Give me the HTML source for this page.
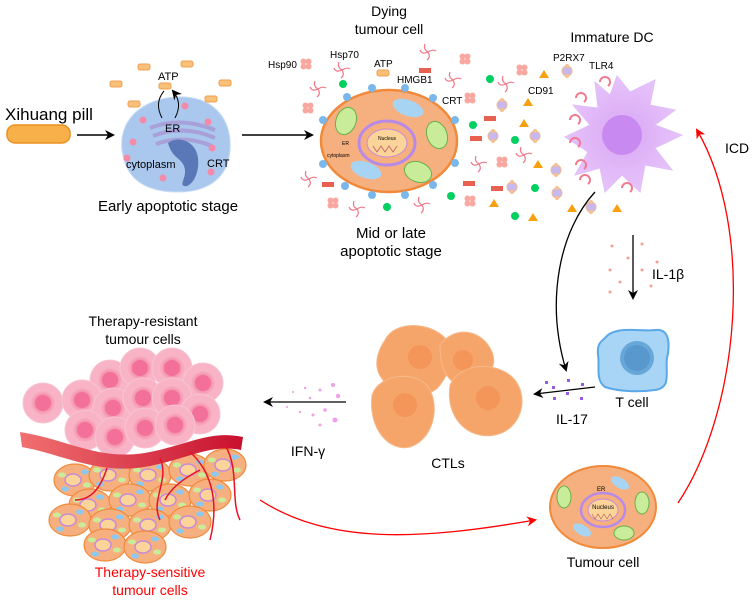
<!DOCTYPE html>
<html><head><meta charset="utf-8"><style>
html,body{margin:0;padding:0;background:#fff;}
svg{display:block;font-family:"Liberation Sans",sans-serif;}
</style></head><body>
<svg width="753" height="603" viewBox="0 0 753 603" xmlns="http://www.w3.org/2000/svg">
<defs>
<marker id="ab" markerWidth="10" markerHeight="10" refX="8" refY="5" orient="auto" markerUnits="userSpaceOnUse"><path d="M0,0 L10,5 L0,10 L3,5 z" fill="#000"/></marker>
<marker id="ar" markerWidth="10" markerHeight="10" refX="8" refY="5" orient="auto" markerUnits="userSpaceOnUse"><path d="M0,0 L10,5 L0,10 L3,5 z" fill="#f00"/></marker>
<radialGradient id="pk" cx="0.5" cy="0.5" r="0.5"><stop offset="0" stop-color="#f06a92"/><stop offset="0.55" stop-color="#f48aa8"/><stop offset="1" stop-color="#f9b8c8"/></radialGradient>
<radialGradient id="dc" cx="0.5" cy="0.5" r="0.5"><stop offset="0" stop-color="#d9a6f4"/><stop offset="1" stop-color="#e6c3fa"/></radialGradient>
<linearGradient id="band" x1="0" x2="1"><stop offset="0" stop-color="#f07070"/><stop offset="1" stop-color="#c8102e"/></linearGradient>
<g id="ocell"><ellipse rx="21" ry="16" fill="#f6b07f" stroke="#f08a3a" stroke-width="1.2"/><ellipse cx="-2" cy="0" rx="8" ry="6" fill="#fbd49a" stroke="#c68ad8" stroke-width="1.5"/><ellipse cx="-13" cy="-5" rx="4" ry="2.5" fill="#c8ec9a"/><ellipse cx="12" cy="5" rx="4" ry="2.5" fill="#c8ec9a"/><ellipse cx="10" cy="-8" rx="4" ry="2.5" fill="#8cc8f0"/><ellipse cx="-10" cy="9" rx="4" ry="2.5" fill="#8cc8f0"/></g>
<g id="pcell"><circle r="20" fill="#f9b3c6" stroke="#f8c4d2"/><circle r="13" fill="url(#pk)"/><circle r="8" fill="#f3709a"/></g>
<g id="hsp"><path d="M0,0 q-5,-3 -3,-8 M0,0 q5,-3 8,-1 M0,0 q3,5 -1,8 M0,0 q-6,3 -8,-2" stroke="#f07a88" stroke-width="1.2" fill="none"/></g>
<g id="h90"><circle cx="-2.5" cy="-2.5" r="3" fill="#f8a8a0"/><circle cx="2.5" cy="-2.5" r="3" fill="#f8a8a0"/><circle cx="-2.5" cy="2.5" r="3" fill="#f8a8a0"/><circle cx="2.5" cy="2.5" r="3" fill="#f8a8a0"/></g>
<g id="p2"><circle r="5" fill="#c8b8f0" stroke="#f0b890"/><circle cy="-5" r="2" fill="#f6c090"/><circle cy="5" r="2" fill="#f6c090"/></g>
</defs>

<text x="5" y="120" font-size="17">Xihuang pill</text>
<rect x="7" y="125" width="63" height="18" rx="8" fill="#f7b04a" stroke="#ef8f20" stroke-width="1.5"/>
<line x1="77" y1="135" x2="113" y2="135" stroke="#000" stroke-width="1.5" marker-end="url(#ab)"/>

<path d="M122,150 C118,115 150,95 185,97 C215,99 232,120 230,150 C228,180 205,193 175,192 C140,191 125,175 122,150z" fill="#aac8ee" stroke="#c8dcf4"/>
<path d="M150,128 q30,-12 65,2 M153,136 q30,-12 62,2 M156,144 q28,-10 56,2" stroke="#a8a0d8" stroke-width="4" fill="none"/>
<path d="M168,143 c10,-8 28,-2 30,15 c2,18 -8,30 -14,28 c-5,-2 4,-10 0,-20 c-3,-8 -12,-8 -16,-23z" fill="#5a78b8"/>
<text x="165" y="132" font-size="11">ER</text>
<text x="126" y="168" font-size="11">cytoplasm</text>
<text x="207" y="167" font-size="11">CRT</text>
<g fill="#f48aa8"><circle cx="185" cy="106" r="3.5"/><circle cx="143" cy="120" r="3.5"/><circle cx="208" cy="122" r="3.5"/><circle cx="133" cy="142" r="3.5"/><circle cx="127" cy="158" r="3.5"/><circle cx="212" cy="148" r="3.5"/><circle cx="211" cy="172" r="3.5"/><circle cx="163" cy="178" r="3.5"/></g>
<text x="158" y="80" font-size="11">ATP</text>
<g fill="#f8c078" stroke="#f0a050"><rect x="159" y="83" width="12" height="6" rx="2"/><rect x="138" y="64" width="12" height="6" rx="2"/><rect x="181" y="61" width="12" height="6" rx="2"/><rect x="110" y="81" width="12" height="6" rx="2"/><rect x="219" y="80" width="12" height="6" rx="2"/><rect x="128" y="101" width="12" height="6" rx="2"/><rect x="205" y="96" width="12" height="6" rx="2"/></g>
<path d="M162,118 q-8,-15 2,-27 M175,118 q8,-15 -2,-27" stroke="#000" fill="none" marker-end="url(#ab)"/>
<text x="168" y="211" font-size="15" text-anchor="middle">Early apoptotic stage</text>
<line x1="242" y1="135" x2="312" y2="135" stroke="#000" stroke-width="1.5" marker-end="url(#ab)"/>

<text x="389" y="16" font-size="14" text-anchor="middle">Dying</text>
<text x="389" y="34" font-size="14" text-anchor="middle">tumour cell</text>
<ellipse cx="389" cy="141" rx="68" ry="51" fill="#f6b07f" stroke="#f08a3a" stroke-width="2.5"/>
<ellipse cx="387" cy="143" rx="28" ry="22" fill="none" stroke="#b88ae8" stroke-width="3"/>
<ellipse cx="387" cy="143" rx="20" ry="14" fill="#fbd49a" stroke="#c68ad8"/>
<text x="387" y="140" font-size="5" text-anchor="middle">Nucleus</text>
<path d="M373,146 l4,6 4,-6 4,6 4,-6 4,6 4,-6" stroke="#c06060" fill="none" stroke-width="0.8"/>
<ellipse cx="346" cy="121" rx="10" ry="14" fill="#c8ec9a" stroke="#6ab04a" transform="rotate(20 346 121)"/>
<ellipse cx="437" cy="135" rx="10" ry="14" fill="#c8ec9a" stroke="#6ab04a" transform="rotate(-20 437 135)"/>
<ellipse cx="418" cy="172" rx="14" ry="10" fill="#c8ec9a" stroke="#6ab04a" transform="rotate(20 418 172)"/>
<ellipse cx="408" cy="108" rx="16" ry="8" fill="#a8d4f4" transform="rotate(20 408 108)"/>
<ellipse cx="366" cy="170" rx="16" ry="8" fill="#a8d4f4" transform="rotate(20 366 170)"/>
<text x="342" y="145" font-size="5">ER</text>
<text x="327" y="157" font-size="5">cytoplasm</text>
<g fill="#7ab8ec"><circle cx="323" cy="120" r="4"/><circle cx="323" cy="164" r="4"/><circle cx="347" cy="97" r="4"/><circle cx="372" cy="88" r="4"/><circle cx="405" cy="88" r="4"/><circle cx="433" cy="98" r="4"/><circle cx="455" cy="120" r="4"/><circle cx="455" cy="163" r="4"/><circle cx="433" cy="185" r="4"/><circle cx="405" cy="195" r="4"/><circle cx="372" cy="195" r="4"/><circle cx="345" cy="186" r="4"/></g>
<text x="268" y="68" font-size="10">Hsp90</text>
<text x="330" y="58" font-size="10">Hsp70</text>
<text x="374" y="67" font-size="10">ATP</text>
<text x="397" y="83" font-size="10">HMGB1</text>
<text x="442" y="104" font-size="10">CRT</text>
<rect x="377" y="70" width="12" height="6" rx="2" fill="#f8c078" stroke="#f0a050"/>
<g fill="#e86050"><rect x="419" y="68" width="12" height="5"/><rect x="322" y="182" width="12" height="5"/><rect x="484" y="116" width="12" height="5"/><rect x="470" y="136" width="12" height="5"/><rect x="463" y="181" width="12" height="5"/><rect x="491" y="186" width="12" height="5"/></g>
<g fill="#00d060"><circle cx="343" cy="84" r="4"/><circle cx="473" cy="125" r="4"/><circle cx="490" cy="79" r="4"/><circle cx="515" cy="140" r="4"/><circle cx="387" cy="207" r="4"/><circle cx="451" cy="196" r="4"/><circle cx="535" cy="188" r="4"/><circle cx="515" cy="216" r="4"/></g>
<g><use href="#h90" x="306" y="64"/><use href="#h90" x="308" y="108"/><use href="#h90" x="333" y="203"/><use href="#h90" x="470" y="98"/><use href="#h90" x="465" y="59"/><use href="#h90" x="522" y="70"/><use href="#h90" x="502" y="162"/><use href="#h90" x="470" y="201"/></g>
<g><use href="#hsp" x="342" y="70"/><use href="#hsp" x="318" y="89"/><use href="#hsp" x="428" y="52"/><use href="#hsp" x="453" y="80"/><use href="#hsp" x="506" y="84"/><use href="#hsp" x="309" y="179"/><use href="#hsp" x="357" y="209"/><use href="#hsp" x="422" y="205"/><use href="#hsp" x="479" y="164"/><use href="#hsp" x="524" y="155"/></g>
<g fill="#f8a010"><path d="M544,70 l5,8 h-10z"/><path d="M528,98 l5,8 h-10z"/><path d="M524,119 l5,8 h-10z"/><path d="M538,160 l5,8 h-10z"/><path d="M494,199 l5,8 h-10z"/><path d="M533,213 l5,8 h-10z"/><path d="M572,204 l5,8 h-10z"/><path d="M617,204 l5,8 h-10z"/></g>
<g><use href="#p2" x="567" y="71"/><use href="#p2" x="502" y="105"/><use href="#p2" x="493" y="136"/><use href="#p2" x="535" y="136"/><use href="#p2" x="556" y="170"/><use href="#p2" x="512" y="187"/><use href="#p2" x="557" y="193"/><use href="#p2" x="591" y="207"/></g>
<text x="391" y="238" font-size="15" text-anchor="middle">Mid or late</text>
<text x="391" y="256" font-size="15" text-anchor="middle">apoptotic stage</text>

<text x="612" y="42" font-size="14" text-anchor="middle">Immature DC</text>
<text x="553" y="61" font-size="10">P2RX7</text>
<text x="589" y="69" font-size="10">TLR4</text>
<text x="528" y="94" font-size="10">CD91</text>
<path d="M617,76 L630,92 L655,80 L650,105 L675,110 L655,125 L682,135 L655,148 L672,170 L645,165 L640,192 L622,175 L605,192 L600,168 L575,175 L588,152 L565,137 L590,125 L573,105 L598,108 L595,82 L610,95z" fill="url(#dc)" stroke="#e0c0f8"/>
<circle cx="622" cy="135" r="20" fill="#c88af0"/>
<g stroke="#f07a90" stroke-width="2" fill="none"><path d="M576,98 a5,5 0 1,1 8,4"/><path d="M570,120 a5,5 0 1,1 8,4"/><path d="M570,143 a5,5 0 1,1 8,4"/><path d="M576,165 a5,5 0 1,1 8,4"/><path d="M600,82 a5,5 0 1,1 8,4"/><path d="M622,188 a5,5 0 1,1 8,4"/><path d="M580,180 a5,5 0 1,1 8,4"/></g>

<path d="M595,192 C560,230 545,300 566,370" stroke="#000" stroke-width="1.3" fill="none" marker-end="url(#ab)"/>
<line x1="633" y1="235" x2="633" y2="298" stroke="#000" stroke-width="1.3" marker-end="url(#ab)"/>
<g fill="#f4a090"><circle cx="612" cy="246" r="1.5"/><circle cx="642" cy="244" r="1.5"/><circle cx="628" cy="258" r="1.5"/><circle cx="610" cy="270" r="1.5"/><circle cx="642" cy="270" r="1.5"/><circle cx="657" cy="262" r="1.5"/><circle cx="620" cy="282" r="1.5"/><circle cx="651" cy="286" r="1.5"/><circle cx="610" cy="292" r="1.5"/></g>
<text x="652" y="279" font-size="14">IL-1β</text>

<path d="M605,338 C615,325 640,332 655,330 C670,328 670,345 667,358 C665,372 672,388 655,390 C640,392 620,392 605,387 C595,380 600,365 598,355 C597,345 600,342 605,338z" fill="#a8d4f6" stroke="#5aa8e8" stroke-width="2"/>
<circle cx="637" cy="358" r="17" fill="#68a8d8"/><circle cx="637" cy="358" r="13" fill="#5898cc"/>
<text x="632" y="407" font-size="14" text-anchor="middle">T cell</text>
<line x1="595" y1="387" x2="535" y2="394" stroke="#000" stroke-width="1.3" marker-end="url(#ab)"/>
<g fill="#9a5ae8"><rect x="545" y="381" width="3" height="3"/><rect x="567" y="379" width="3" height="3"/><rect x="581" y="383" width="3" height="3"/><rect x="552" y="386" width="3" height="3"/><rect x="566" y="392" width="3" height="3"/><rect x="553" y="397" width="3" height="3"/><rect x="580" y="397" width="3" height="3"/></g>
<text x="572" y="424" font-size="14" text-anchor="middle">IL-17</text>

<g fill="#f6a56a" stroke="#f7b88a">
<path d="M385,340 C395,320 430,322 445,338 C458,352 450,372 440,385 C430,400 400,395 388,385 C372,372 375,355 385,340z"/>
<path d="M440,345 C455,325 480,330 490,348 C500,365 488,380 470,385 C452,388 440,375 440,345z"/>
<path d="M372,395 C380,372 420,370 430,390 C440,410 432,440 410,447 C390,452 368,430 372,395z"/>
<path d="M450,385 C462,360 500,362 515,380 C530,400 520,430 495,435 C470,440 445,420 450,385z"/>
</g>
<g fill="#f4955a"><circle cx="420" cy="357" r="12"/><circle cx="463" cy="360" r="10"/><circle cx="405" cy="405" r="12"/><circle cx="488" cy="398" r="12"/></g>
<text x="448" y="468" font-size="14" text-anchor="middle">CTLs</text>

<line x1="346" y1="402" x2="265" y2="402" stroke="#000" stroke-width="1.3" marker-end="url(#ab)"/>
<g fill="#f0a0e8"><circle cx="333" cy="385" r="2"/><circle cx="320" cy="390" r="1.5"/><circle cx="305" cy="388" r="1.2"/><circle cx="293" cy="392" r="1"/><circle cx="338" cy="396" r="2.2"/><circle cx="325" cy="410" r="1.8"/><circle cx="313" cy="415" r="1.5"/><circle cx="335" cy="420" r="2.5"/><circle cx="300" cy="412" r="1.2"/><circle cx="287" cy="407" r="1"/><circle cx="310" cy="398" r="1.3"/><circle cx="320" cy="425" r="1.5"/></g>
<text x="308" y="456" font-size="14" text-anchor="middle">IFN-γ</text>

<text x="143" y="326" font-size="14" text-anchor="middle">Therapy-resistant</text>
<text x="143" y="344" font-size="14" text-anchor="middle">tumour cells</text>
<g>
<use href="#ocell" x="75" y="480"/><use href="#ocell" x="110" y="475"/><use href="#ocell" x="150" y="475"/><use href="#ocell" x="190" y="470"/><use href="#ocell" x="225" y="465"/>
<use href="#ocell" x="90" y="505"/><use href="#ocell" x="130" y="500"/><use href="#ocell" x="170" y="500"/><use href="#ocell" x="210" y="495"/>
<use href="#ocell" x="70" y="520"/><use href="#ocell" x="110" y="525"/><use href="#ocell" x="150" y="525"/><use href="#ocell" x="190" y="522"/>
<use href="#ocell" x="105" y="545"/><use href="#ocell" x="145" y="547"/>
</g>
<g>
<use href="#pcell" x="43" y="403"/><use href="#pcell" x="110" y="380"/><use href="#pcell" x="140" y="368"/><use href="#pcell" x="172" y="368"/><use href="#pcell" x="203" y="383"/>
<use href="#pcell" x="82" y="400"/><use href="#pcell" x="113" y="408"/><use href="#pcell" x="143" y="398"/><use href="#pcell" x="172" y="398"/><use href="#pcell" x="200" y="414"/>
<use href="#pcell" x="85" y="430"/><use href="#pcell" x="115" y="437"/><use href="#pcell" x="145" y="428"/><use href="#pcell" x="175" y="425"/>
</g>
<path d="M20,432 C70,440 100,462 150,452 C190,444 210,430 243,437 L241,450 C210,444 190,458 150,466 C100,476 65,455 22,447z" fill="url(#band)"/>
<g stroke="#e8102a" stroke-width="1.5" fill="none"><path d="M107,468 C100,490 90,500 75,500"/><path d="M160,458 C170,480 150,500 160,520"/><path d="M190,452 C210,470 220,500 210,540"/><path d="M225,445 C240,470 230,500 240,520"/><path d="M200,470 C180,480 170,490 165,500"/></g>
<text x="150" y="577" font-size="14" text-anchor="middle" fill="#f00">Therapy-sensitive</text>
<text x="150" y="595" font-size="14" text-anchor="middle" fill="#f00">tumour cells</text>

<path d="M260,500 C330,545 420,540 535,520" stroke="#f00" stroke-width="1.3" fill="none" marker-end="url(#ar)"/>
<path d="M678,503 C740,410 755,230 697,130" stroke="#f00" stroke-width="1.3" fill="none" marker-end="url(#ar)"/>
<text x="737" y="153" font-size="14" text-anchor="middle">ICD</text>

<ellipse cx="603" cy="507" rx="53" ry="41" fill="#f6b07f" stroke="#f08a3a" stroke-width="2"/>
<ellipse cx="603" cy="510" rx="22" ry="17" fill="none" stroke="#b88ae8" stroke-width="2.5"/>
<ellipse cx="603" cy="510" rx="15" ry="11" fill="#fbd49a" stroke="#c68ad8"/>
<text x="603" y="509" font-size="6" text-anchor="middle">Nucleus</text>
<path d="M592,514 l3,5 3,-5 3,5 3,-5 3,5 3,-5 3,5" stroke="#c06060" fill="none" stroke-width="0.7"/>
<text x="597" y="491" font-size="6">ER</text>
<ellipse cx="564" cy="497" rx="7" ry="11" fill="#c8ec9a" stroke="#6ab04a"/>
<ellipse cx="642" cy="503" rx="7" ry="11" fill="#c8ec9a" stroke="#6ab04a"/>
<ellipse cx="624" cy="533" rx="10" ry="7" fill="#c8ec9a" stroke="#6ab04a"/>
<ellipse cx="620" cy="483" rx="10" ry="5" fill="#a8d4f4" transform="rotate(30 620 483)"/>
<ellipse cx="582" cy="530" rx="10" ry="5" fill="#a8d4f4" transform="rotate(30 582 530)"/>
<text x="603" y="567" font-size="14" text-anchor="middle">Tumour cell</text>
</svg>
</body></html>
